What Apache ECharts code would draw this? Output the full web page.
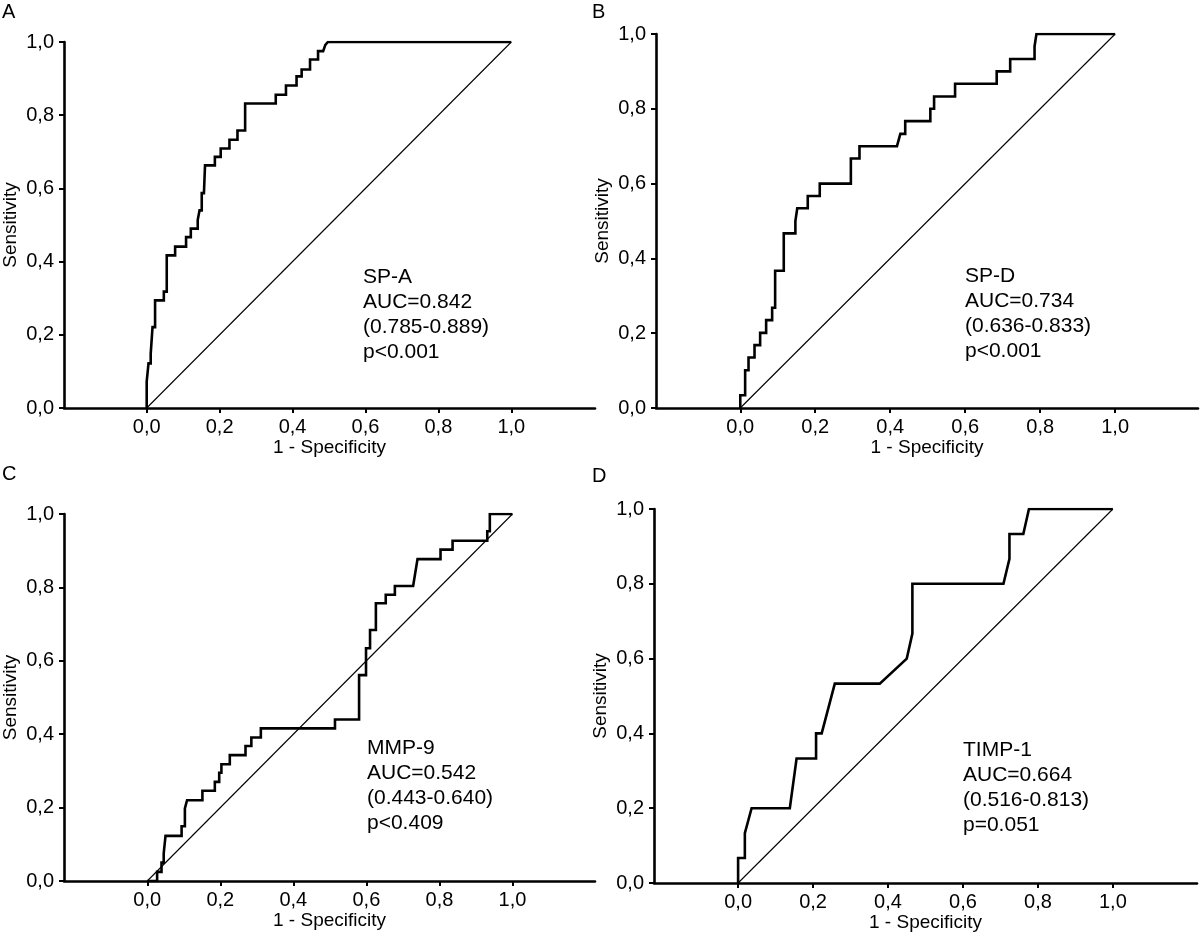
<!DOCTYPE html>
<html>
<head>
<meta charset="utf-8">
<script src="https://cdn.jsdelivr.net/npm/echarts@6/dist/echarts.min.js"></script>
<style>
html,body{margin:0;padding:0;background:#fff;}
#chart{width:1200px;height:937px;}
</style>
</head>
<body>
<div id="chart"></div>
<script>
// ---- data ----
const tickValues = [0, 0.2, 0.4, 0.6, 0.8, 1.0];
const panelLetters = ['A', 'B', 'C', 'D'];
const xAxisName = '1 - Specificity';
const yAxisName = 'Sensitivity';
const diagonal = [[0, 0], [1, 1]];

const rocSPA = [[0,0],[0,0.072],[0.005,0.072],[0.005,0.122],[0.011,0.122],[0.011,0.148],[0.016,0.148],[0.016,0.221],[0.023,0.221],[0.023,0.294],[0.047,0.294],[0.047,0.318],[0.055,0.318],[0.055,0.417],[0.078,0.417],[0.078,0.441],[0.108,0.441],[0.108,0.467],[0.121,0.467],[0.121,0.49],[0.14,0.49],[0.14,0.514],[0.145,0.514],[0.145,0.54],[0.151,0.54],[0.151,0.587],[0.157,0.587],[0.16,0.663],[0.187,0.663],[0.187,0.686],[0.203,0.686],[0.203,0.709],[0.227,0.709],[0.227,0.733],[0.249,0.733],[0.249,0.758],[0.27,0.758],[0.27,0.832],[0.354,0.832],[0.354,0.856],[0.382,0.856],[0.382,0.881],[0.411,0.881],[0.411,0.906],[0.425,0.906],[0.425,0.925],[0.448,0.925],[0.448,0.952],[0.47,0.952],[0.47,0.975],[0.484,0.975],[0.49,0.992],[0.497,1],[1,1]];

const rocSPD = [[0,0],[0,0.034],[0.013,0.034],[0.013,0.101],[0.022,0.101],[0.022,0.135],[0.038,0.135],[0.038,0.168],[0.053,0.168],[0.053,0.201],[0.069,0.201],[0.069,0.235],[0.085,0.235],[0.085,0.268],[0.093,0.268],[0.093,0.367],[0.116,0.367],[0.116,0.467],[0.147,0.467],[0.147,0.5],[0.152,0.5],[0.152,0.534],[0.18,0.534],[0.18,0.567],[0.212,0.567],[0.212,0.6],[0.295,0.6],[0.295,0.667],[0.318,0.667],[0.318,0.7],[0.418,0.7],[0.427,0.733],[0.44,0.733],[0.44,0.767],[0.507,0.767],[0.507,0.8],[0.517,0.8],[0.517,0.833],[0.573,0.833],[0.573,0.867],[0.684,0.867],[0.684,0.9],[0.72,0.9],[0.72,0.933],[0.785,0.933],[0.785,0.967],[0.79,0.967],[0.79,1],[1,1]];

const rocMMP9 = [[0,0],[0.027,0],[0.027,0.025],[0.039,0.025],[0.039,0.05],[0.045,0.05],[0.045,0.075],[0.05,0.075],[0.05,0.123],[0.094,0.123],[0.094,0.149],[0.103,0.149],[0.103,0.198],[0.109,0.22],[0.151,0.22],[0.151,0.246],[0.185,0.246],[0.185,0.27],[0.197,0.27],[0.197,0.295],[0.203,0.295],[0.203,0.318],[0.226,0.318],[0.226,0.343],[0.269,0.343],[0.269,0.368],[0.285,0.368],[0.285,0.391],[0.311,0.391],[0.311,0.416],[0.514,0.416],[0.514,0.44],[0.58,0.44],[0.58,0.561],[0.599,0.561],[0.599,0.634],[0.61,0.634],[0.61,0.684],[0.626,0.684],[0.626,0.757],[0.653,0.757],[0.653,0.78],[0.678,0.78],[0.678,0.804],[0.728,0.804],[0.74,0.877],[0.803,0.877],[0.803,0.903],[0.836,0.903],[0.836,0.927],[0.931,0.927],[0.931,0.953],[0.938,0.953],[0.938,1],[1,1]];

const rocTIMP1 = [[0,0],[0,0.067],[0.018,0.067],[0.018,0.133],[0.036,0.2],[0.138,0.2],[0.156,0.333],[0.208,0.333],[0.208,0.4],[0.223,0.4],[0.258,0.533],[0.378,0.533],[0.45,0.6],[0.465,0.667],[0.465,0.8],[0.708,0.8],[0.724,0.867],[0.724,0.933],[0.761,0.933],[0.776,1],[1,1]];

const rocCurves = [rocSPA, rocSPD, rocMMP9, rocTIMP1];
const annotations = [
  ['SP-A', 'AUC=0.842', '(0.785-0.889)', 'p<0.001'],
  ['SP-D', 'AUC=0.734', '(0.636-0.833)', 'p<0.001'],
  ['MMP-9', 'AUC=0.542', '(0.443-0.640)', 'p<0.409'],
  ['TIMP-1', 'AUC=0.664', '(0.516-0.813)', 'p=0.051']
];

// ---- layout (pixels) ----
const grids = [
  {left: 64,  top: 42,  width: 531, height: 366, xmin: -0.2268, xmax: 1.2296},
  {left: 656, top: 34,  width: 542, height: 374, xmin: -0.2248, xmax: 1.221},
  {left: 64,  top: 514, width: 531, height: 367, xmin: -0.228,  xmax: 1.226},
  {left: 654, top: 509, width: 543, height: 374, xmin: -0.2244, xmax: 1.2244}
];
const letterPos = [[2, 2], [592, 2], [2, 464], [592, 466]];
const annoPos = [[363, 265], [965, 264], [367, 736], [963, 738]];

const FONT = '"Liberation Sans", Arial, sans-serif';
const fmt = v => v.toFixed(1).replace('.', ',');

const option = {
  animation: false,
  backgroundColor: '#fff',
  grid: grids.map(g => ({left: g.left, top: g.top, width: g.width, height: g.height, containLabel: false})),
  xAxis: grids.map((g, i) => ({
    type: 'value', gridIndex: i, min: g.xmin, max: g.xmax,
    name: xAxisName, nameLocation: 'middle', nameGap: 29,
    nameTextStyle: {color: '#000', fontSize: 19, fontFamily: FONT},
    axisLine: {show: true, onZero: false, lineStyle: {color: '#000', width: 2.6}},
    axisTick: {show: true, customValues: tickValues, length: 5, lineStyle: {color: '#000', width: 2}},
    axisLabel: {customValues: tickValues, formatter: fmt, color: '#000', fontSize: 20, fontFamily: FONT, margin: 9},
    splitLine: {show: false}
  })),
  yAxis: grids.map((g, i) => ({
    type: 'value', gridIndex: i, min: 0, max: 1, interval: 0.2,
    name: yAxisName, nameLocation: 'middle', nameGap: 44, nameRotate: 90,
    nameTextStyle: {color: '#000', fontSize: 19, fontFamily: FONT},
    axisLine: {show: true, onZero: false, lineStyle: {color: '#000', width: 2.6}},
    axisTick: {show: true, length: 5, lineStyle: {color: '#000', width: 2}},
    axisLabel: {formatter: fmt, color: '#000', fontSize: 20, fontFamily: FONT, margin: 10},
    splitLine: {show: false}
  })),
  series: [],
  graphic: []
};

rocCurves.forEach((curve, i) => {
  option.series.push({
    type: 'line', xAxisIndex: i, yAxisIndex: i, data: diagonal,
    showSymbol: false, silent: true,
    lineStyle: {color: '#000', width: 1.1}
  });
  option.series.push({
    type: 'line', xAxisIndex: i, yAxisIndex: i, data: curve,
    showSymbol: false, silent: true,
    lineStyle: {color: '#000', width: 2.6, join: 'miter'}
  });
  option.graphic.push({
    type: 'text', left: letterPos[i][0], top: letterPos[i][1],
    style: {text: panelLetters[i], fill: '#000', font: '20px ' + FONT}
  });
  option.graphic.push({
    type: 'text', left: annoPos[i][0], top: annoPos[i][1],
    style: {text: annotations[i].join('\n'), fill: '#000', font: '21px ' + FONT, lineHeight: 25}
  });
});

const chart = echarts.init(document.getElementById('chart'), null, {renderer: 'canvas'});
chart.setOption(option);
</script>
</body>
</html>
